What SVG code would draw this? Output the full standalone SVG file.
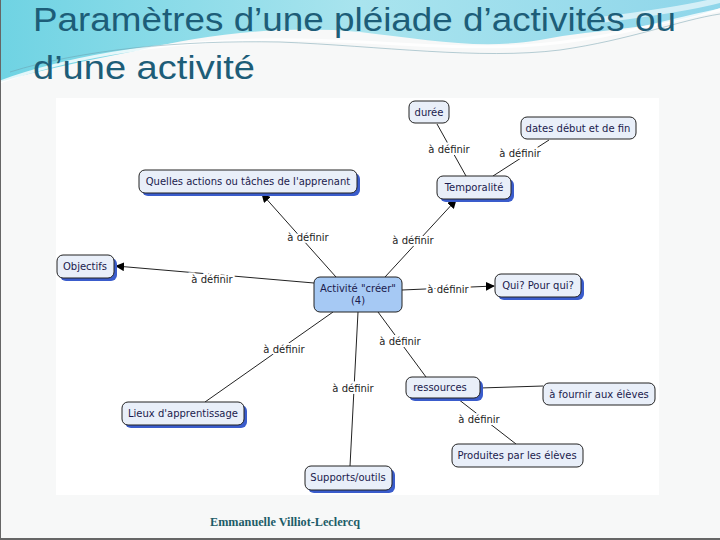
<svg xmlns="http://www.w3.org/2000/svg" width="720" height="540" viewBox="0 0 720 540">
<defs>
<linearGradient id="sw" x1="0" y1="0" x2="1" y2="0">
<stop offset="0" stop-color="#6fd3e3"/>
<stop offset="0.5" stop-color="#a9e4ee"/>
<stop offset="1" stop-color="#8fd6ea"/>
</linearGradient>
<marker id="ah" viewBox="0 0 10 10" refX="9" refY="5" markerWidth="9" markerHeight="9" markerUnits="userSpaceOnUse" orient="auto">
<path d="M0,0 L10,5 L0,10 z" fill="#000"/>
</marker>
<style>
.bx{fill:#e9eff9;stroke:#222;stroke-width:1}
.sh{fill:#3a5ccc}
.nt{font-family:"DejaVu Sans",Verdana,sans-serif;font-size:10px;fill:#1b1b4d;text-anchor:middle}
.lb{font-family:"DejaVu Sans",Verdana,sans-serif;font-size:10px;fill:#222;text-anchor:middle;stroke:#fff;stroke-width:4;paint-order:stroke}
.ln{stroke:#222;stroke-width:1;fill:none}
.ar{marker-end:url(#ah)}
</style>
</defs>
<rect width="720" height="540" fill="#f7f8f8"/>
<path d="M0,0 H720 V8 C660,30 600,28 540,40 C480,50 430,40 360,32 C280,24 200,36 140,50 C90,60 40,70 0,82 Z" fill="url(#sw)"/>
<path d="M0,82 C60,60 150,42 260,40 C360,38 430,50 520,46 C600,42 660,22 720,10" stroke="#ffffff" stroke-width="3" fill="none" opacity="0.8"/>
<path d="M10,72 C80,50 180,40 280,42 C380,46 480,60 560,50 C630,40 680,20 720,14" stroke="#6a9aa8" stroke-width="0.8" fill="none" opacity="0.6"/>
<path d="M600,20 C640,15 690,8 720,0" stroke="#ffffff" stroke-width="6" fill="none" opacity="0.6"/>
<rect x="56" y="98" width="603" height="397" fill="#ffffff"/>
<g font-family="'Liberation Sans',Arial,sans-serif" fill="#1d5d78" font-size="33">
<text x="33" y="31" textLength="643" lengthAdjust="spacingAndGlyphs">Paramètres d’une pléiade d’activités ou</text>
<text x="33" y="79" textLength="222" lengthAdjust="spacingAndGlyphs">d’une activité</text>
</g>
<g id="connectors">
<line class="ln" x1="437" y1="124" x2="466" y2="176"/>
<line class="ln" x1="549" y1="140" x2="493" y2="176"/>
<line class="ln ar" x1="385" y1="277" x2="456" y2="200"/>
<line class="ln ar" x1="336" y1="277" x2="262" y2="194"/>
<line class="ln ar" x1="314" y1="283" x2="116" y2="266"/>
<line class="ln ar" x1="402" y1="290" x2="494" y2="286"/>
<line class="ln" x1="378" y1="312" x2="426" y2="377"/>
<line class="ln" x1="333" y1="312" x2="205" y2="402"/>
<line class="ln" x1="358" y1="312" x2="350" y2="466"/>
<line class="ln" x1="480" y1="388" x2="543" y2="386"/>
<line class="ln" x1="458" y1="399" x2="516" y2="444"/>
<text class="lb" x="449" y="153">à définir</text>
<text class="lb" x="520" y="157">à définir</text>
<text class="lb" x="413" y="244">à définir</text>
<text class="lb" x="308" y="241">à définir</text>
<text class="lb" x="212" y="283">à définir</text>
<text class="lb" x="448" y="293">à définir</text>
<text class="lb" x="400" y="345">à définir</text>
<text class="lb" x="284" y="353">à définir</text>
<text class="lb" x="353" y="392">à définir</text>
<text class="lb" x="479" y="423">à définir</text>
</g>
<g id="n-duree"><rect class="bx" x="409" y="101" width="40" height="22" rx="6"/><text class="nt" x="429" y="116">durée</text></g>
<g id="n-dates"><rect class="bx" x="521" y="117" width="115" height="22" rx="6"/><text class="nt" x="578" y="132">dates début et de fin</text></g>
<g id="n-temporalite"><rect class="sh" x="440" y="179" width="74" height="23" rx="6"/><rect class="bx" x="437" y="176" width="74" height="23" rx="6"/><text class="nt" x="474" y="191">Temporalité</text></g>
<g id="n-quelles"><rect class="sh" x="142" y="173" width="218" height="23" rx="6"/><rect class="bx" x="139" y="170" width="218" height="23" rx="6"/><text class="nt" x="248" y="185">Quelles actions ou tâches de l'apprenant</text></g>
<g id="n-objectifs"><rect class="sh" x="60" y="258" width="57" height="23" rx="6"/><rect class="bx" x="57" y="255" width="57" height="23" rx="6"/><text class="nt" x="85" y="270">Objectifs</text></g>
<g id="n-activite"><rect x="314" y="277" width="88" height="35" rx="6" fill="#a6c9f4" stroke="#222"/><text class="nt" x="358" y="292">Activité "créer"</text><text class="nt" x="358" y="304">(4)</text></g>
<g id="n-qui"><rect class="sh" x="498" y="277" width="86" height="23" rx="6"/><rect class="bx" x="495" y="274" width="86" height="23" rx="6"/><text class="nt" x="538" y="289">Qui? Pour qui?</text></g>
<g id="n-ressources"><rect class="sh" x="409" y="380" width="74" height="21" rx="6"/><rect class="bx" x="406" y="377" width="74" height="21" rx="6"/><text class="nt" x="440" y="391" fill="#23236a">ressources</text></g>
<g id="n-fournir"><rect class="bx" x="543" y="383" width="112" height="22" rx="6"/><text class="nt" x="599" y="398">à fournir aux élèves</text></g>
<g id="n-produites"><rect class="bx" x="452" y="444" width="131" height="23" rx="6"/><text class="nt" x="517" y="459">Produites par les élèves</text></g>
<g id="n-lieux"><rect class="sh" x="125" y="405" width="122" height="23" rx="6"/><rect class="bx" x="122" y="402" width="122" height="23" rx="6"/><text class="nt" x="183" y="417">Lieux d'apprentissage</text></g>
<g id="n-supports"><rect class="sh" x="308" y="469" width="87" height="24" rx="6"/><rect class="bx" x="305" y="466" width="87" height="24" rx="6"/><text class="nt" x="348" y="481">Supports/outils</text></g>
<text x="210" y="526" font-family="'Liberation Serif',serif" font-size="12" font-weight="bold" fill="#1d5d68" textLength="150" lengthAdjust="spacingAndGlyphs">Emmanuelle Villiot-Leclercq</text>
<line x1="0.5" y1="0" x2="0.5" y2="540" stroke="#666" stroke-width="1"/>
<line x1="0" y1="539" x2="720" y2="539" stroke="#666" stroke-width="2"/>
</svg>
